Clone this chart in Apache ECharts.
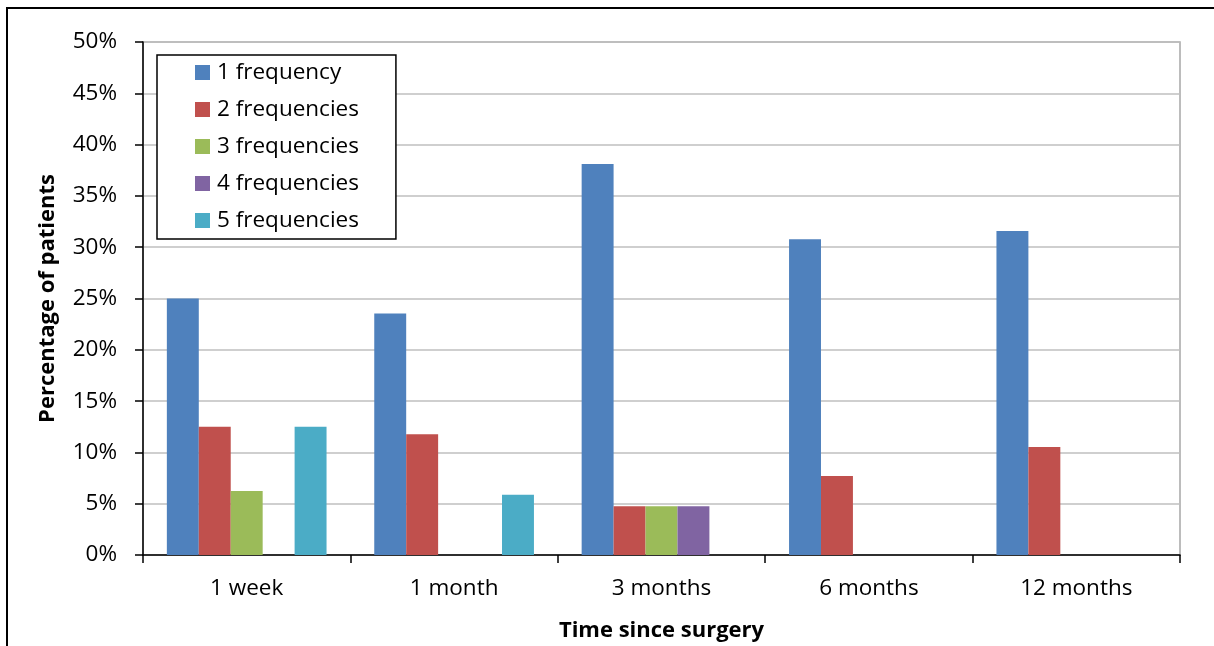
<!DOCTYPE html>
<html>
<head>
<meta charset="utf-8">
<style>
  html, body { margin: 0; padding: 0; background: #fff; }
  #chart { width: 1214px; height: 646px; }
</style>
<script src="https://cdn.jsdelivr.net/npm/echarts@6/dist/echarts.min.js"></script>
</head>
<body>
<div id="chart"></div>
<script>
// Time points after surgery
const categories = ['1 week', '1 month', '3 months', '6 months', '12 months'];

// Percentage of patients per number of frequencies
const oneFrequency     = [25.0, 23.53, 38.10, 30.77, 31.58];
const twoFrequencies   = [12.5, 11.76, 4.76, 7.69, 10.53];
const threeFrequencies = [6.25, 0, 4.76, 0, 0];
const fourFrequencies  = [0, 0, 4.76, 0, 0];
const fiveFrequencies  = [12.5, 5.88, 0, 0, 0];

const seriesNames = ['1 frequency', '2 frequencies', '3 frequencies', '4 frequencies', '5 frequencies'];
const seriesValues = [oneFrequency, twoFrequencies, threeFrequencies, fourFrequencies, fiveFrequencies];
const colors = ['#4F81BD', '#C0504D', '#9BBB59', '#8064A2', '#4BACC6'];

const FONT = '"Open Sans"';
const SIZE = 22.5;

const chart = echarts.init(document.getElementById('chart'), null, { renderer: 'canvas' });

chart.setOption({
  animation: false,
  backgroundColor: '#ffffff',
  color: colors,
  textStyle: { fontFamily: FONT, color: '#000' },
  // outer chart frame
  graphic: [{
    type: 'rect',
    z: -1,
    shape: { x: 7, y: 8, width: 1400, height: 800 },
    style: { fill: 'none', stroke: '#000', lineWidth: 2 }
  }],
  grid: {
    left: 143, right: 34, top: 42, bottom: 91,
    outerBoundsMode: 'none',
    containLabel: false,
    show: true, borderColor: '#A6A6A6', borderWidth: 1.5
  },
  legend: {
    orient: 'vertical',
    left: 157,
    top: 55,
    icon: 'rect',
    itemWidth: 15,
    itemHeight: 15,
    itemGap: 14,
    padding: [6, 37, 7, 38],
    borderColor: '#000',
    borderWidth: 1.5,
    backgroundColor: '#fff',
    textStyle: { fontFamily: FONT, fontSize: SIZE, color: '#000', lineHeight: 23, padding: [0, 0, 0, 2] },
    data: seriesNames
  },
  xAxis: {
    type: 'category',
    data: categories,
    name: 'Time since surgery',
    nameLocation: 'middle',
    nameGap: 65,
    nameTextStyle: { fontFamily: FONT, fontSize: 22, fontWeight: 'bold', color: '#000' },
    axisLine: { lineStyle: { color: '#000', width: 1.5 } },
    axisTick: { show: true, length: 8, lineStyle: { color: '#000', width: 1.5 } },
    axisLabel: { fontFamily: FONT, fontSize: SIZE, color: '#000', margin: 22 },
    splitLine: { show: false }
  },
  yAxis: {
    type: 'value',
    min: 0,
    max: 50,
    interval: 5,
    name: 'Percentage of patients',
    nameLocation: 'middle',
    nameGap: 84,
    nameTextStyle: { fontFamily: FONT, fontSize: 22, fontWeight: 'bold', color: '#000' },
    axisLine: { show: true, lineStyle: { color: '#000', width: 1.5 } },
    axisTick: { show: true, length: 8, lineStyle: { color: '#000', width: 1.5 } },
    axisLabel: { fontFamily: FONT, fontSize: SIZE, color: '#000', margin: 26, formatter: '{value}%' },
    splitLine: { lineStyle: { color: '#BFBFBF', width: 1.5 } }
  },
  series: seriesNames.map((name, i) => ({
    name: name,
    type: 'bar',
    data: seriesValues[i],
    barGap: '0%',
    barCategoryGap: '23%',
    itemStyle: { color: colors[i] }
  }))
});
</script>
</body>
</html>
